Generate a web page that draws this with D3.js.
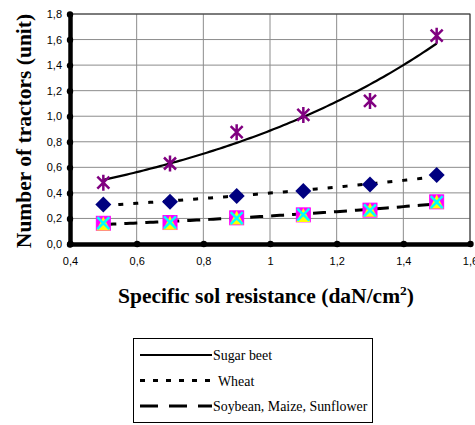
<!DOCTYPE html>
<html><head><meta charset="utf-8">
<script src="https://cdn.jsdelivr.net/npm/d3@7"></script>
<style>body{margin:0;background:#fff}svg{display:block}
.serif{font-family:"Liberation Serif",Tinos,"Times New Roman",Times,serif}
.sans{font-family:"Liberation Sans",Arimo,Arial,Helvetica,sans-serif}
</style>
</head><body>
<svg id="c" width="475" height="425"></svg>
<script>
const xValues = [0.5, 0.7, 0.9, 1.1, 1.3, 1.5];
const sugarBeet = [0.48, 0.63, 0.875, 1.01, 1.12, 1.63];
const wheat = [0.31, 0.33, 0.375, 0.415, 0.465, 0.54];
const soybean = [0.162, 0.168, 0.205, 0.228, 0.265, 0.33];
const maize = [0.160, 0.166, 0.207, 0.226, 0.268, 0.332];
const sunflower = [0.164, 0.170, 0.203, 0.230, 0.263, 0.328];
const xTicks = [0.4, 0.6, 0.8, 1.0, 1.2, 1.4, 1.6];
const yTicks = [0, 0.2, 0.4, 0.6, 0.8, 1.0, 1.2, 1.4, 1.6, 1.8];
const legendLabels = ["Sugar beet", "Wheat", "Soybean, Maize, Sunflower"];

const svg = d3.select("#c");
const L = 70, R = 470, T = 14, B = 244;
const x = d3.scaleLinear().domain([0.4, 1.6]).range([L, R]);
const y = d3.scaleLinear().domain([0, 1.8]).range([B, T]);

function expFit(xs, ys) {
  const ly = ys.map(Math.log);
  const mx = d3.mean(xs), my = d3.mean(ly);
  let sxy = 0, sxx = 0;
  xs.forEach((v, i) => { sxy += (v - mx) * (ly[i] - my); sxx += (v - mx) ** 2; });
  const b = sxy / sxx, a = Math.exp(my - b * mx);
  return t => a * Math.exp(b * t);
}
const fmt = v => (Math.abs(v - 1) < 1e-9 ? "1" : d3.format(".1f")(v).replace(".", ","));
const fmtY = v => d3.format(".1f")(v).replace(".", ",");

// grid
const g = svg.append("g");
g.selectAll(".gy").data(yTicks).join("line")
  .attr("x1", L).attr("x2", R).attr("y1", d => y(d)).attr("y2", d => y(d))
  .attr("stroke", "#8c8c8c").attr("stroke-width", 1);
g.selectAll(".gx").data(xTicks).join("line")
  .attr("x1", d => x(d)).attr("x2", d => x(d)).attr("y1", T).attr("y2", B)
  .attr("stroke", "#8c8c8c").attr("stroke-width", 1);
g.append("rect").attr("x", L).attr("y", T).attr("width", R - L).attr("height", B - T)
  .attr("fill", "none").attr("stroke", "#333").attr("stroke-width", 1);

// trend lines
const tx = d3.range(0.5, 1.5001, 0.01);
function trend(fn, dash, w) {
  svg.append("path").datum(tx)
    .attr("d", d3.line().x(d => x(d)).y(d => y(fn(d))))
    .attr("fill", "none").attr("stroke", "#000").attr("stroke-width", w)
    .attr("stroke-dasharray", dash);
}
trend(expFit(xValues, sugarBeet), null, 2.2);
trend(expFit(xValues, wheat), "5,10", 3);
const allX = xValues.concat(xValues, xValues);
const allY = soybean.concat(maize, sunflower);
trend(expFit(allX, allY), "13,8", 3);

// markers
const pts = (arr) => xValues.map((v, i) => [v, arr[i]]);
svg.selectAll(".sq").data(pts(soybean)).join("rect")
  .attr("x", d => x(d[0]) - 7).attr("y", d => y(d[1]) - 7).attr("width", 14).attr("height", 14)
  .attr("fill", "#ff00ff").attr("stroke", "#ff00ff");
svg.selectAll(".tr").data(pts(maize)).join("path")
  .attr("d", d => { const cx = x(d[0]), cy = y(d[1]); return `M${cx},${cy - 7}L${cx + 7},${cy + 7}L${cx - 7},${cy + 7}Z`; })
  .attr("fill", "#ffff00");
svg.selectAll(".xx").data(pts(sunflower)).join("path")
  .attr("d", d => { const cx = x(d[0]), cy = y(d[1]); return `M${cx - 6},${cy - 6}L${cx + 6},${cy + 6}M${cx + 6},${cy - 6}L${cx - 6},${cy + 6}`; })
  .attr("stroke", "#00ffff").attr("stroke-width", 2.5);
svg.selectAll(".dm").data(pts(wheat)).join("path")
  .attr("d", d => { const cx = x(d[0]), cy = y(d[1]); return `M${cx},${cy - 8}L${cx + 8},${cy}L${cx},${cy + 8}L${cx - 8},${cy}Z`; })
  .attr("fill", "#000080");
svg.selectAll(".as").data(pts(sugarBeet)).join("path")
  .attr("d", d => { const cx = x(d[0]), cy = y(d[1]); return `M${cx - 6},${cy - 6}L${cx + 6},${cy + 6}M${cx + 6},${cy - 6}L${cx - 6},${cy + 6}M${cx},${cy - 8}L${cx},${cy + 8}`; })
  .attr("stroke", "#800080").attr("stroke-width", 2.5).attr("fill", "none");

// axes
const xAxis = d3.axisBottom(x).tickValues(xTicks).tickFormat(fmt).tickSize(0).tickPadding(13);
const yAxis = d3.axisLeft(y).tickValues(yTicks).tickFormat(fmtY).tickSize(0).tickPadding(8);
const gx = svg.append("g").attr("transform", `translate(0,${B})`).call(xAxis);
const gy = svg.append("g").attr("transform", `translate(${L},0)`).call(yAxis);
[gx, gy].forEach(a => {
  a.attr("font-family", null).attr("font-size", null);
  a.select(".domain").attr("stroke", "#000").attr("stroke-width", 4.5);
  a.selectAll("text").attr("class", "sans").style("font-size", "11px").attr("fill", "#000");
});
gx.selectAll(".tick").append("circle").attr("r", 3.2).attr("fill", "#000");
gy.selectAll(".tick").append("circle").attr("r", 3.2).attr("fill", "#000");

// axis titles
svg.append("text").attr("class", "serif").attr("transform", "translate(31,131) rotate(-90)").attr("text-anchor", "middle")
  .style("font-weight", "bold").style("font-size", "21.5px")
  .text("Number of tractors (unit)");
const xt = svg.append("text").attr("class", "serif").attr("x", 266).attr("y", 303).attr("text-anchor", "middle")
  .style("font-weight", "bold").style("font-size", "21.5px");
xt.append("tspan").text("Specific sol resistance (daN/cm");
xt.append("tspan").attr("dy", -8).style("font-size", "13.5px").text("2");
xt.append("tspan").attr("dy", 8).text(")");

// legend
const lg = svg.append("g");
lg.append("rect").attr("x", 133.5).attr("y", 338.5).attr("width", 239).attr("height", 84)
  .attr("fill", "#fff").attr("stroke", "#000").attr("stroke-width", 1);
const dashes = [null, "5,8", "18,11"];
const widths = [2, 3, 3];
legendLabels.forEach((t, i) => {
  const yy = 355 + i * 25.5;
  lg.append("line").attr("x1", 140).attr("x2", 212).attr("y1", yy).attr("y2", yy)
    .attr("stroke", "#000").attr("stroke-width", widths[i]).attr("stroke-dasharray", dashes[i]);
  lg.append("text").attr("class", "serif").attr("x", i === 1 ? 218 : 213).attr("y", yy + 5)
    .style("font-size", "13.9px").text(t);
});
</script>
</body></html>
